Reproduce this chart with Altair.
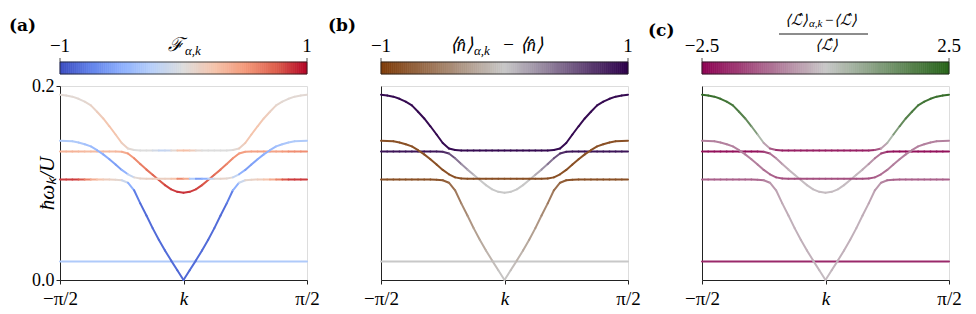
import altair as alt
import numpy as np
import pandas as pd

# k in units of pi/2
K = [-1.00, -0.95, -0.90, -0.85, -0.80, -0.75, -0.70, -0.65, -0.60, -0.55,
     -0.50, -0.45, -0.40, -0.35, -0.30, -0.25, -0.20, -0.15, -0.10, -0.05,
     0.00, 0.05, 0.10, 0.15, 0.20, 0.25, 0.30, 0.35, 0.40, 0.45,
     0.50, 0.55, 0.60, 0.65, 0.70, 0.75, 0.80, 0.85, 0.90, 0.95, 1.00]
KF = [-1.0, 1.0]

# band energies hbar*omega/U
E1 = [0.0192, 0.0192]
E2 = ([0.1037] * 8 + [0.1036, 0.1034, 0.1028, 0.1003, 0.0925, 0.0790, 0.0665, 0.0535,
                       0.0415, 0.0305, 0.0200, 0.0100, 0.0000,
                       0.0100, 0.0200, 0.0305, 0.0415, 0.0535, 0.0665, 0.0790, 0.0925,
                       0.1003, 0.1028, 0.1034, 0.1036] + [0.1037] * 8)
E3 = ([0.1326] * 10 + [0.1323, 0.1305, 0.1255, 0.1195, 0.1138, 0.1085, 0.1031, 0.0978,
                        0.0935, 0.0909, 0.0900, 0.0909, 0.0935, 0.0978, 0.1031, 0.1085,
                        0.1138, 0.1195, 0.1255, 0.1305, 0.1323] + [0.1326] * 10)
E4 = ([0.1436, 0.1434, 0.1430, 0.1418, 0.1400, 0.1377, 0.1338, 0.1295, 0.1245, 0.1190,
       0.1135, 0.1090, 0.1058, 0.1047] + [0.1045] * 13 +
      [0.1047, 0.1058, 0.1090, 0.1135, 0.1190, 0.1245, 0.1295, 0.1338, 0.1377, 0.1400,
       0.1418, 0.1430, 0.1434, 0.1436])
E5 = ([0.1910, 0.1902, 0.1890, 0.1868, 0.1838, 0.1800, 0.1735, 0.1665, 0.1585, 0.1500,
       0.1412, 0.1355, 0.1340] + [0.1336] * 15 +
      [0.1340, 0.1355, 0.1412, 0.1500, 0.1585, 0.1665, 0.1735, 0.1800, 0.1838, 0.1868,
       0.1890, 0.1902, 0.1910])

# (a) F_{alpha,k}
FA1 = [-0.3, -0.3]
FA2 = ([0.85] * 4 + [0.7, 0.5, 0.3, 0.2, 0.15, 0.1, 0.05, -0.3, -0.7] + [-0.85] * 7 + [-0.9] +
       [-0.85] * 7 + [-0.7, -0.3, 0.05, 0.1, 0.15, 0.2, 0.3, 0.5, 0.7] + [0.85] * 4)
FA3 = ([0.35] * 4 + [0.3] * 6 + [0.35, 0.45, 0.55, 0.6, 0.65, 0.7, 0.75, 0.8, 0.85, 0.85, 0.9,
                                  0.85, 0.85, 0.8, 0.75, 0.7, 0.65, 0.6, 0.55, 0.5, 0.45] +
       [0.45] * 6 + [0.55] * 4)
FA4 = [-0.3, -0.3, -0.3, -0.3, -0.35, -0.4, -0.45, -0.5, -0.55, -0.6, -0.6, -0.35, 0.0, 0.1,
       0.12, 0.15, 0.15, 0.15, 0.15, 0.35, 0.8, 0.0, -0.6, -0.6, -0.4, 0.0, 0.1, 0.1, 0.0,
       -0.35, -0.6, -0.6, -0.55, -0.5, -0.45, -0.4, -0.35, -0.3, -0.3, -0.3, -0.3]
FA5 = ([0.05] * 5 + [0.1, 0.15, 0.2, 0.25, 0.25, 0.2, 0.1, 0.0, 0.0, 0.0, 0.0, -0.15, -0.2, -0.1,
                      0.2, 0.3, 0.25, 0.1, 0.0] + [0.0] * 5 +
       [0.1, 0.2, 0.25, 0.25, 0.2, 0.15, 0.1] + [0.05] * 5)

# (b) <n>_{alpha,k} - <n>
NB1 = [0.0, 0.0]
NB2 = ([-0.85] * 10 + [-0.8, -0.7, -0.6, -0.5, -0.4, -0.32, -0.25, -0.18, -0.1, -0.05, 0.0,
                        -0.05, -0.1, -0.18, -0.25, -0.32, -0.4, -0.5, -0.6, -0.7, -0.8] +
       [-0.85] * 10)
NB3 = ([0.9] * 10 + [0.85, 0.7, 0.5, 0.35, 0.2, 0.1] + [0.0] * 9 +
       [0.1, 0.2, 0.35, 0.5, 0.7, 0.85] + [0.9] * 10)
NB4 = [-0.85] * 41
NB5 = [0.95] * 41

# (c) (<L>_{alpha,k} - <L>)/<L>
LC1 = [-2.0, -2.0]
LC2 = ([-1.3] * 10 + [-1.0, -0.7, -0.5, -0.4] + [-0.3] * 5 + [-0.2, -0.15, -0.2] + [-0.3] * 5 +
       [-0.4, -0.5, -0.7, -1.0] + [-1.3] * 10)
LC3 = ([-2.3] * 10 + [-2.0, -1.3, -0.8, -0.5, -0.3] + [-0.15] * 11 +
       [-0.3, -0.5, -0.8, -1.3, -2.0] + [-2.3] * 10)
LC4 = [-0.9] * 10 + [-1.0, -1.2, -1.4] + [-1.5] * 15 + [-1.4, -1.2, -1.0] + [-0.9] * 10
LC5 = ([2.3, 2.25, 2.2, 2.15, 2.1, 2.0, 1.9, 1.7, 1.4, 0.8, 0.0, -1.0, -1.8] + [-2.1] * 15 +
       [-1.8, -1.0, 0.0, 0.8, 1.4, 1.7, 1.9, 2.0, 2.1, 2.15, 2.2, 2.25, 2.3])

COOLWARM_D = [-1, -0.75, -0.5, -0.25, 0, 0.25, 0.5, 0.75, 1]
COOLWARM_R = ["#3b4cc0", "#6282ea", "#8db0fe", "#b8d0f9", "#dddddd",
              "#f5c4ac", "#f49a7b", "#de604d", "#b40426"]
PUOR_D = [-1, 0, 1]
PUOR_R = ["#7f3b08", "#c8c8c8", "#2d004b"]
PIYG_D = [-2.5, 0, 2.5]
PIYG_R = ["#8e0152", "#c8c8c8", "#276419"]

W, H = 247, 194
SERIF = "Liberation Serif"
BOLD = "DejaVu Serif"
XS = alt.Scale(domain=[-1, 1], nice=False, zero=False)
YS = alt.Scale(domain=[0, 0.2], nice=False, zero=False)
ONE = pd.DataFrame({"a": [0]})


def x_axis():
    return alt.Axis(values=[-1, 0, 1],
                    labelExpr="datum.value == 0 ? 'k' : (datum.value < 0 ? '\u2212\u03c0/2' : '\u03c0/2')",
                    title=None, grid=False, tickSize=4, tickColor="#222", domainColor="#222",
                    labelFont=SERIF, labelFontSize=19, labelColor="black", labelPadding=5,
                    labelFontStyle={"condition": {"test": "datum.value == 0", "value": "italic"},
                                    "value": "normal"},
                    labelFlush=False, labelOverlap=False)


def y_axis(show):
    if show:
        return alt.Axis(values=[0, 0.2], format=".1f", grid=False, tickSize=4,
                        tickColor="#222", domainColor="#222", labelFont=SERIF, labelFontSize=18,
                        labelColor="black", labelPadding=2,
                        title="\u0127\u03c9\u2096/U", titleFont=SERIF, titleFontSize=21,
                        titleFontStyle="italic", titleFontWeight="normal", titleColor="black",
                        titlePadding=-26)
    return alt.Axis(labels=False, ticks=False, title=None, grid=False, domainColor="#222")


def txt(s, x, y, size, style="normal", align="center", weight="normal", font=SERIF):
    return alt.Chart(ONE).mark_text(text=s, font=font, fontSize=size, fontStyle=style,
                                    fontWeight=weight, align=align, baseline="middle",
                                    color="black").encode(
        x=alt.value(x), y=alt.value(y))


def panel(curves, dom, rng, vmax, lo_lab, hi_lab, extra, show_y, cname):
    rows = []
    for k, e, c in curves:
        for i in range(len(k) - 1):
            rows.append({"t": k[i], "e": e[i], "t2": k[i + 1], "e2": e[i + 1],
                         cname: (c[i] + c[i + 1]) / 2})
    df = pd.DataFrame(rows)
    cs = alt.Scale(domain=dom, range=rng, interpolate="rgb", clamp=True)

    lines = alt.Chart(df).mark_rule(strokeWidth=2, strokeCap="round").encode(
        x=alt.X("t:Q", scale=XS, axis=x_axis()),
        x2="t2:Q",
        y=alt.Y("e:Q", scale=YS, axis=y_axis(show_y)),
        y2="e2:Q",
        color=alt.Color(f"{cname}:Q", scale=cs, legend=None),
    )

    v = np.linspace(-vmax, vmax, 121)
    cb = pd.DataFrame({"t": v[:-1] / vmax, "t2": v[1:] / vmax, cname: (v[:-1] + v[1:]) / 2})
    bar = alt.Chart(cb).mark_rect(strokeWidth=0.7).encode(
        x=alt.X("t:Q", scale=XS, axis=x_axis()), x2="t2:Q",
        y=alt.value(-24), y2=alt.value(-12),
        color=alt.Color(f"{cname}:Q", scale=cs, legend=None),
        stroke=alt.Stroke(f"{cname}:Q", scale=cs, legend=None),
    )
    outline = alt.Chart(ONE).mark_rect(filled=False, stroke="#222", strokeWidth=0.8).encode(
        x=alt.XDatum(-1, scale=XS, axis=x_axis()), x2=alt.X2Datum(1),
        y=alt.value(-24), y2=alt.value(-12))
    cbt = alt.Chart(pd.DataFrame({"t": [-1, 1]})).mark_rule(color="#222", strokeWidth=0.8).encode(
        x=alt.X("t:Q", scale=XS, axis=x_axis()), y=alt.value(-28), y2=alt.value(-24))
    lo = alt.Chart(ONE).mark_text(text=lo_lab, font=SERIF, fontSize=19, baseline="middle",
                                  color="black").encode(
        x=alt.XDatum(-1, scale=XS, axis=x_axis()), y=alt.value(-40))
    hi = alt.Chart(ONE).mark_text(text=hi_lab, font=SERIF, fontSize=19, baseline="middle",
                                  color="black").encode(
        x=alt.XDatum(1, scale=XS, axis=x_axis()), y=alt.value(-40))

    return alt.layer(lines, bar, outline, cbt, lo, hi, *extra).properties(width=W, height=H)


extra_a = [
    txt("(a)", -51, -60, 17, align="left", weight="bold", font=BOLD),
    txt("\u2131", 124, -41, 19, style="italic", align="right"),
    txt("\u03b1,k", 125, -35, 13, style="italic", align="left"),
]
extra_b = [
    txt("(b)", -53, -60, 17, align="left", weight="bold", font=BOLD),
    txt("\u27e8n\u0302\u27e9", 92, -41, 19, style="italic", align="right"),
    txt("\u03b1,k", 93, -35, 13, style="italic", align="left"),
    txt("\u2212 \u27e8n\u0302\u27e9", 121, -41, 19, style="italic", align="left"),
]
extra_c = [
    txt("(c)", -54, -55, 17, align="left", weight="bold", font=BOLD),
    txt("\u27e8\u2112\u0302\u27e9", 106, -66, 15, style="italic", align="right"),
    txt("\u03b1,k", 107, -62, 11, style="italic", align="left"),
    txt("\u2212\u27e8\u2112\u0302\u27e9", 122, -66, 15, style="italic", align="left"),
    alt.Chart(ONE).mark_rule(color="black", strokeWidth=0.9).encode(
        x=alt.value(77), x2=alt.value(166), y=alt.value(-52)),
    txt("\u27e8\u2112\u0302\u27e9", 124, -41, 15, style="italic"),
]

pa = panel([(KF, E1, FA1), (K, E2, FA2), (K, E3, FA3), (K, E4, FA4), (K, E5, FA5)],
           COOLWARM_D, COOLWARM_R, 1.0, "\u22121", "1", extra_a, True, "fa")
pb = panel([(KF, E1, NB1), (K, E2, NB2), (K, E3, NB3), (K, E4, NB4), (K, E5, NB5)],
           PUOR_D, PUOR_R, 1.0, "\u22121", "1", extra_b, False, "nb")
pc = panel([(KF, E1, LC1), (K, E2, LC2), (K, E3, LC3), (K, E4, LC4), (K, E5, LC5)],
           PIYG_D, PIYG_R, 2.5, "\u22122.5", "2.5", extra_c, False, "lc")

chart = alt.hconcat(pa, pb, pc, spacing=74, bounds="flush").resolve_scale(
    color="independent", stroke="independent"
).properties(
    padding={"left": 0, "top": 4, "right": 0, "bottom": 0}
).configure_view(stroke="#666", strokeWidth=1).configure(background="white")

chart.save("out.html", embed_options={"renderer": "svg", "actions": False})
